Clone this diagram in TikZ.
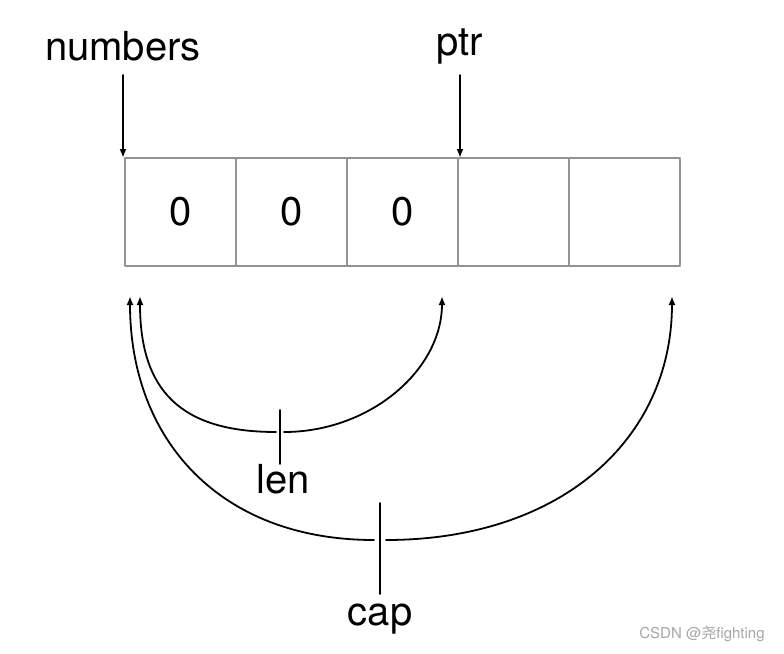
\documentclass[tikz,border=0pt]{standalone}
\usepackage{fontspec}
\setmainfont{TeX Gyre Heros}
\newfontfamily\cjkfont{Noto Sans CJK SC}
\usetikzlibrary{arrows.meta}
\begin{document}
\begin{tikzpicture}[x=.5pt, y=-.5pt, line join=round, line cap=round,
    >={Latex[length=4.5pt,width=3.5pt]}, font=\fontsize{20}{24}\selectfont,
    cell/.style={draw=gray!85, line width=.75pt, minimum width=55.5pt,
        minimum height=54pt, inner sep=0pt, outer sep=0pt},
    lbl/.style={inner sep=0pt},
    link/.style={line width=.9pt}]
    \useasboundingbox (0,0) rectangle (784,654);
    % cells of the slice
    \foreach \i/\v in {1/0,2/0,3/0,4/,5/}
        \node[cell] (c\i) at ({69.5+111*\i},212) {\v};
    % pointers
    \coordinate (top) at (0,75);
    \node[lbl] (numbers) at (123,46) {numbers};
    \node[lbl] (ptr) at (460,46) {ptr};
    \draw[link,->] (numbers |- top) -- (numbers |- c1.north);
    \draw[link,->] (ptr |- top) -- (ptr |- c4.north);
    % len and cap brackets
    \coordinate (lenM) at (280,432);
    \coordinate (capM) at (380,540);
    \coordinate (lenA) at (140,296);
    \coordinate (lenB) at (442,296);
    \coordinate (capA) at (130,296);
    \coordinate (capB) at (672,296);
    \draw[link,->] ([xshift=-2pt]lenM) .. controls (180,432) and (140,390) .. (lenA);
    \draw[link,->] ([xshift=2pt]lenM) .. controls (370,432) and (442,370) .. (lenB);
    \draw[link,->] ([xshift=-3pt]capM) .. controls (220,540) and (130,440) .. (capA);
    \draw[link,->] ([xshift=3pt]capM) .. controls (560,540) and (672,440) .. (capB);
    \node[lbl, anchor=north] (len) at (283,464) {len};
    \node[lbl, anchor=north] (cap) at (380,604) {cap};
    \draw[link] ([yshift=11pt]lenM) -- (lenM |- len.north);
    \draw[link] ([yshift=18.5pt]capM) -- ([yshift=5pt]capM |- cap.north);
    \node[text=gray!70, font=\fontsize{7.5}{9}\selectfont] (mark) at (702,634)
        {CSDN @{\cjkfont 尧}fighting};
\end{tikzpicture}
\end{document}
